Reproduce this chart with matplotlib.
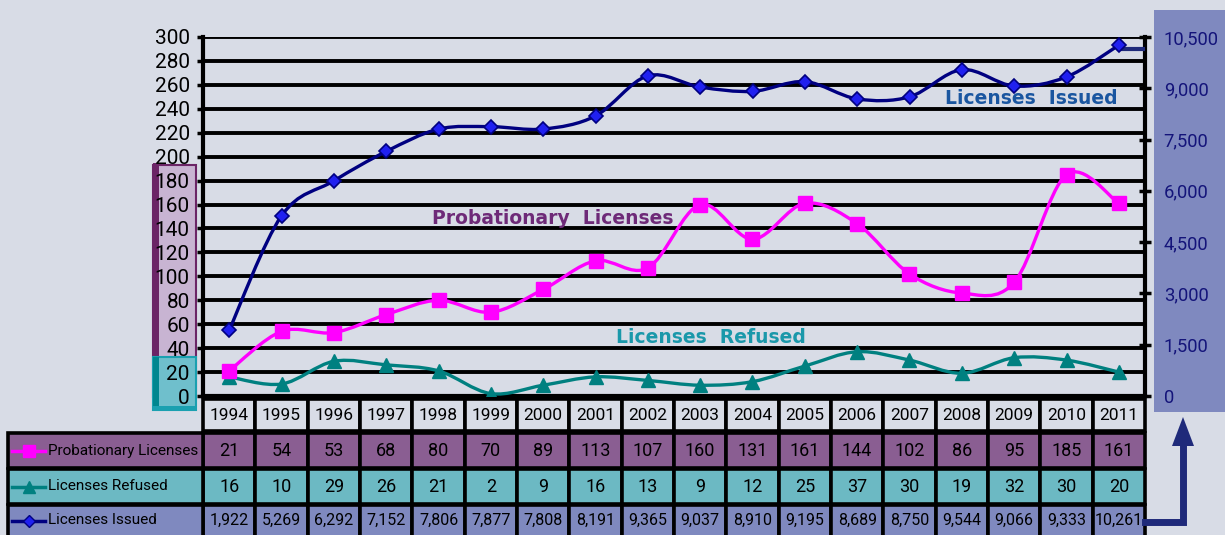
import matplotlib
matplotlib.use("Agg")
import matplotlib.pyplot as plt
from matplotlib.path import Path
from matplotlib.patches import PathPatch, Rectangle, Polygon
from matplotlib.lines import Line2D

years = ["1994", "1995", "1996", "1997", "1998", "1999", "2000", "2001", "2002",
         "2003", "2004", "2005", "2006", "2007", "2008", "2009", "2010", "2011"]
probationary = [21, 54, 53, 68, 80, 70, 89, 113, 107, 160, 131, 161, 144, 102, 86, 95, 185, 161]
refused = [16, 10, 29, 26, 21, 2, 9, 16, 13, 9, 12, 25, 37, 30, 19, 32, 30, 20]
issued = [1922, 5269, 6292, 7152, 7806, 7877, 7808, 8191, 9365, 9037, 8910, 9195, 8689,
          8750, 9544, 9066, 9333, 10261]
left_ticks = list(range(0, 301, 20))
right_ticks = list(range(0, 10501, 1500))
series_names = ["Probationary Licenses", "Licenses Refused", "Licenses Issued"]

BG = "#d8dce6"
C_PROB = "#ff00ff"
C_REF = "#008080"
C_ISS = "#000080"
ROW_PROB = "#8a5e92"
ROW_REF = "#6cb9c3"
ROW_ISS = "#7f89bf"

NARROW = dict(family=["Roboto", "DejaVu Sans"])

W, H = 1225, 535
fig = plt.figure(figsize=(W / 100, H / 100), dpi=100, facecolor=BG)

ov = fig.add_axes([0, 0, 1, 1], zorder=0)
ov.set_xlim(0, W)
ov.set_ylim(H, 0)
ov.axis("off")

PX_L, PX_R, PX_T, PX_B = 203, 1145, 37, 396
ax = fig.add_axes([PX_L / W, 1 - PX_B / H, (PX_R - PX_L) / W, (PX_B - PX_T) / H], zorder=2)
ax.patch.set_alpha(0)
n = len(years)
ax.set_xlim(-0.5, n - 0.5)
ax.set_ylim(0, 300)
ax.set_yticks(left_ticks)
ax.set_yticklabels([str(v) for v in left_ticks], fontsize=15, **NARROW)
ax.set_xticks([])
ax.yaxis.grid(True, color="black", lw=2.8)
ax.set_axisbelow(True)
ax.tick_params(axis="y", direction="out", length=4.5, width=2.5, pad=5, colors="black")
for s in ["top", "right"]:
    ax.spines[s].set_visible(False)
ax.spines["left"].set_linewidth(3)
ax.spines["bottom"].set_linewidth(3)

ax2 = ax.twinx()
ax2.set_ylim(0, 10500)
ax2.set_yticks(right_ticks)
ax2.set_yticklabels([f"{v:,}" for v in right_ticks], fontsize=13.2, **NARROW)
ax2.tick_params(axis="y", direction="inout", length=9, width=2.5, pad=9, colors="black",
                labelcolor="#14147a")
for s in ["top", "left", "bottom"]:
    ax2.spines[s].set_visible(False)
ax2.spines["right"].set_linewidth(3)


def smooth_path(xs, ys):
    verts = [(xs[0], ys[0])]
    codes = [Path.MOVETO]
    m = len(xs)
    for i in range(m - 1):
        a = i - 1 if i > 0 else i
        d = i + 2 if i + 2 < m else i + 1
        c1 = (xs[i] + (xs[i + 1] - xs[a]) / 6, ys[i] + (ys[i + 1] - ys[a]) / 6)
        c2 = (xs[i + 1] - (xs[d] - xs[i]) / 6, ys[i + 1] - (ys[d] - ys[i]) / 6)
        verts += [c1, c2, (xs[i + 1], ys[i + 1])]
        codes += [Path.CURVE4] * 3
    return Path(verts, codes)


xs = list(range(n))
ax.add_patch(PathPatch(smooth_path(xs, refused), fill=False, ec=C_REF, lw=2.4, zorder=3))
ax.plot(xs, refused, ls="none", marker="^", ms=10, mfc=C_REF, mec=C_REF, zorder=4)
ax.add_patch(PathPatch(smooth_path(xs, probationary), fill=False, ec=C_PROB, lw=2.4, zorder=3))
ax.plot(xs, probationary, ls="none", marker="s", ms=9.5, mfc=C_PROB, mec=C_PROB, zorder=4)
ax2.add_patch(PathPatch(smooth_path(xs, issued), fill=False, ec=C_ISS, lw=2.4, zorder=3))
ax2.plot([xs[-1], n - 0.5], [issued[-1] - 100, issued[-1] - 100], color="#1f2a7a", lw=3, zorder=3)
ax2.plot(xs, issued, ls="none", marker="D", ms=7.5, mfc="#2020f0", mec=C_ISS, mew=1.2, zorder=4)

lab = dict(fontsize=13.5, fontweight="bold", family="DejaVu Sans", ha="center", va="center")
ax.text(15.32, 249, "Licenses  Issued", color="#1a56a0", **lab)
ax.text(6.19, 148.7, "Probationary  Licenses", color="#6e2a78", **lab)
ax.text(9.21, 48.5, "Licenses  Refused", color="#1a98aa", **lab)

# left coloured boxes
ov.add_patch(Rectangle((153, 165), 43, 232, fc="#c8b4d2", ec="#6b2466", lw=1.5, zorder=1))
ov.add_patch(Rectangle((153, 163), 6, 234, fc="#6b2466", ec="none", zorder=1))
ov.add_patch(Rectangle((153, 357), 43, 53, fc="#6fbfcc", ec="#1aa0b0", lw=1.5, zorder=2))
ov.add_patch(Rectangle((153, 357), 6, 53, fc="#00868f", ec="none", zorder=2))
ov.add_patch(Rectangle((153, 406), 43, 5, fc="#1aa0b0", ec="none", zorder=2))

# right panel
ov.add_patch(Rectangle((1154, 10), W - 1154, 402, fc=ROW_ISS, ec="none", zorder=1))

# data table
centers = [ax.transData.transform((i, 0))[0] for i in range(n)]
cw = centers[1] - centers[0]
rows = [(399, 431), (433, 468), (469, 504), (505, 540)]
row_fc = [BG, ROW_PROB, ROW_REF, ROW_ISS]
row_vals = [years,
            [str(v) for v in probationary],
            [str(v) for v in refused],
            [f"{v:,}" for v in issued]]
row_fs = [12.5, 13, 13, 11.5]
for r, (top, bot) in enumerate(rows):
    for i, c in enumerate(centers):
        ov.add_patch(Rectangle((c - cw / 2, top), cw, bot - top, fc=row_fc[r], ec="black",
                               lw=2.6, zorder=2))
        ov.text(c, (top + bot) / 2 + (0 if r < 3 else -2), row_vals[r][i], ha="center",
                va="center", fontsize=row_fs[r], color="black", zorder=3, **NARROW)
    if r > 0:
        ov.add_patch(Rectangle((8, top), PX_L - 8, bot - top, fc=row_fc[r], ec="black",
                               lw=2.6, zorder=2))

sym = [("s", C_PROB, C_PROB, 9), ("^", C_REF, C_REF, 9), ("D", "#2020f0", C_ISS, 6.5)]
line_col = [C_PROB, C_REF, C_ISS]
for r in range(1, 4):
    top, bot = rows[r]
    yc = (top + bot) / 2 + (0 if r < 3 else -2)
    m, fcol, ecol, ms = sym[r - 1]
    ov.add_line(Line2D([12, 29, 45], [yc, yc, yc], color=line_col[r - 1], lw=2.5,
                       marker=m, markevery=[1], ms=ms, mfc=fcol, mec=ecol, zorder=3))
    ov.text(48, yc, series_names[r - 1], ha="left", va="center", fontsize=11,
            color="black", zorder=3, **NARROW)

ov.add_line(Line2D([PX_R, 1183, 1183], [522, 522, 442], color="#1f2a7a", lw=5,
                   solid_joinstyle="miter", zorder=2))
ov.add_patch(Polygon([(1172, 446), (1194, 446), (1183, 417)], closed=True, fc="#1f2a7a",
                     ec="none", zorder=2))

fig.savefig("out.png", dpi=100, facecolor=BG)
